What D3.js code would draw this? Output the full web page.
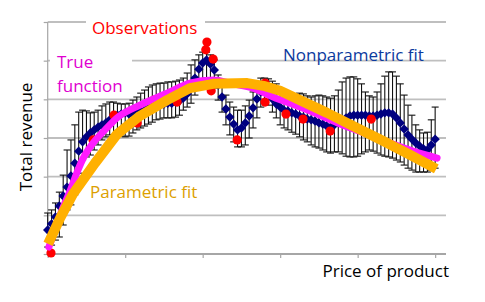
<!DOCTYPE html>
<html>
<head>
<meta charset="utf-8">
<script src="https://cdn.jsdelivr.net/npm/d3@7"></script>
<style>
body { margin: 0; background: #fff; }
svg { display: block; }
text { font-family: "Open Sans", sans-serif; }
</style>
</head>
<body>
<svg id="chart" width="485" height="302"></svg>
<script>
// nonparametric fit, one value per price step (101 steps)
const npFit = [6.2, 7.8, 9.6, 12.4, 15.0, 17.3, 20.2, 23.5, 26.6, 29.0,
  30.3, 31.3, 32.1, 32.8, 33.4, 33.9, 34.7, 35.4, 35.9, 36.2,
  36.5, 36.2, 36.2, 36.7, 37.0, 37.2, 37.8, 38.0, 38.3, 38.5,
  38.8, 39.0, 39.0, 39.3, 39.6, 40.3, 41.4, 43.2, 45.5, 47.8,
  49.4, 50.2, 49.1, 47.6, 43.7, 40.6, 37.5, 35.4, 33.6, 32.1,
  32.6, 33.9, 35.7, 37.8, 40.1, 41.9, 42.7, 41.9, 40.1, 38.8,
  38.0, 37.2, 37.0, 36.5, 36.2, 35.7, 35.4, 34.9, 34.7, 34.4,
  33.9, 33.6, 33.1, 32.8, 33.4, 33.9, 34.7, 35.2, 35.7, 35.9,
  35.9, 35.9, 35.9, 35.7, 35.7, 35.9, 36.2, 36.5, 36.5, 36.2,
  35.2, 33.9, 32.3, 30.8, 29.7, 28.7, 27.9, 27.2, 26.9, 28.2, 29.7];
const npUpper = [10.6, 11.4, 13.2, 16.0, 20.4, 26.9, 29.5, 33.4, 36.7, 37.2,
  37.0, 36.5, 36.7, 37.2, 38.3, 38.8, 39.3, 39.3, 39.0, 38.8,
  38.8, 39.0, 39.8, 40.6, 41.6, 42.4, 43.2, 43.7, 44.0, 44.2,
  44.2, 44.5, 44.5, 44.7, 45.0, 45.5, 46.8, 48.9, 50.2, 51.5,
  52.2, 52.2, 51.5, 50.2, 46.3, 43.7, 41.1, 39.3, 38.0, 37.2,
  37.2, 38.3, 39.8, 41.9, 44.2, 45.5, 45.5, 45.3, 44.7, 44.0,
  42.9, 41.9, 41.4, 41.1, 41.1, 41.6, 41.4, 40.9, 40.6, 40.9,
  41.1, 40.9, 40.6, 40.3, 40.9, 42.4, 44.5, 45.5, 45.8, 45.8,
  45.3, 44.0, 41.9, 40.9, 40.6, 41.9, 44.0, 46.0, 47.1, 47.1,
  46.0, 44.0, 41.1, 38.5, 35.9, 33.4, 32.1, 31.3, 31.5, 34.7, 38.0];
const npLower = [1.8, 2.3, 3.6, 4.4, 7.5, 11.4, 12.7, 15.3, 20.9, 24.3,
  25.1, 25.6, 26.9, 28.2, 29.5, 30.3, 30.8, 30.8, 30.5, 30.5,
  30.3, 30.5, 31.3, 32.1, 32.6, 33.1, 33.6, 34.1, 34.7, 34.9,
  35.2, 35.2, 35.2, 35.4, 35.9, 37.2, 38.0, 39.0, 41.1, 43.7,
  45.0, 45.5, 44.5, 42.9, 39.8, 36.7, 33.4, 30.8, 29.0, 27.7,
  27.7, 28.2, 30.0, 32.6, 35.2, 38.0, 39.0, 38.5, 36.7, 35.2,
  33.4, 32.6, 32.1, 31.5, 31.0, 30.3, 29.5, 29.0, 28.2, 27.7,
  27.4, 26.9, 26.4, 26.1, 26.4, 26.4, 25.9, 25.3, 25.1, 25.1,
  25.3, 25.9, 26.4, 26.9, 26.6, 26.1, 25.6, 25.3, 25.1, 24.8,
  24.3, 23.8, 23.0, 22.2, 21.7, 21.2, 21.2, 21.2, 21.2, 21.7, 22.2];

// observations
const obsX = [0.85, 11.7, 17.1, 23.1, 27.4, 33.4, 41.1, 40.8, 42.7, 42.2, 48.9, 56.1, 56.1, 61.5, 65.9, 72.9, 83.5];
const obsY = [0.26, 29.5, 35.9, 33.9, 39.8, 39.3, 54.8, 52.8, 50.4, 42.2, 29.5, 44.2, 39.3, 36.2, 34.9, 31.8, 34.9];

// true function
const trueX = [0.3, 1.9, 3.7, 5.9, 7.6, 9.6, 11.7, 14.8, 17.9, 23.8, 30.8, 36.7, 42.7, 47.9, 53.0, 58.2, 65.1, 70.3, 75.5, 82.5, 88.4, 94.3, 100.5];
const trueY = [1.8, 6.2, 11.4, 16.6, 21.2, 25.6, 28.7, 32.1, 35.2, 38.5, 41.6, 44.2, 45.0, 44.0, 42.9, 40.6, 38.0, 35.9, 33.6, 31.0, 28.7, 26.6, 24.8];

// parametric fit
const paramX = [0.1, 3.2, 6.5, 12.2, 17.9, 23.8, 30.8, 36.7, 42.7, 51.5, 56.1, 60.0, 65.1, 72.1, 78.8, 86.6, 93.6, 100.3];
const paramY = [2.6, 9.3, 15.5, 23.5, 31.0, 35.7, 39.8, 42.9, 44.0, 44.2, 43.4, 42.2, 39.8, 36.5, 33.1, 29.2, 25.6, 22.0];

const xTicks = [0, 20, 40, 60, 80, 100];
const yTicks = [0, 10, 20, 30, 40, 50, 60];

const svg = d3.select("#chart");
const x = d3.scaleLinear().domain([0, 102.8]).range([47.7, 446]);
const y = d3.scaleLinear().domain([0, 60]).range([254, 22]);

// grid
svg.append("g")
    .selectAll("line")
    .data(yTicks.slice(1))
    .join("line")
    .attr("x1", x(0)).attr("x2", x(102.8))
    .attr("y1", d => y(d)).attr("y2", d => y(d))
    .attr("stroke", "#bfbfbf").attr("stroke-width", 1.8);

// axes
svg.append("g")
    .attr("transform", `translate(0,${y(0)})`)
    .call(d3.axisBottom(x).tickValues(xTicks).tickSize(4).tickFormat(""))
    .call(g => g.select(".domain").attr("stroke", "#a6a6a6").attr("stroke-width", 1.8).attr("d", `M${x(0)},0H${x(102.8)}`))
    .call(g => g.selectAll(".tick line").attr("stroke", "#a6a6a6").attr("stroke-width", 1.2));

svg.append("g")
    .attr("transform", `translate(${x(0)},0)`)
    .call(d3.axisLeft(y).tickValues(yTicks).tickSize(4).tickFormat(""))
    .call(g => g.select(".domain").attr("stroke", "#a6a6a6").attr("stroke-width", 1.2).attr("d", `M0,${y(60)}V${y(0)}`))
    .call(g => g.selectAll(".tick line").attr("stroke", "#a6a6a6").attr("stroke-width", 1.2));

// label boxes that hide the grid
svg.append("rect").attr("x", 86).attr("y", 12).attr("width", 119).attr("height", 24).attr("fill", "#fff");
svg.append("rect").attr("x", 50).attr("y", 50).attr("width", 82).attr("height", 46).attr("fill", "#fff");

// error bars
const np = npFit.map((v, i) => ({i: i, v: v, hi: npUpper[i], lo: npLower[i]}));
const eb = svg.append("g").attr("stroke", "#111").attr("stroke-width", 1.1);
eb.selectAll("line.v").data(np).join("line").attr("class", "v")
    .attr("x1", d => x(d.i)).attr("x2", d => x(d.i))
    .attr("y1", d => y(d.hi)).attr("y2", d => y(d.lo));
eb.selectAll("line.t").data(np).join("line").attr("class", "t")
    .attr("x1", d => x(d.i) - 3.5).attr("x2", d => x(d.i) + 3.5)
    .attr("y1", d => y(d.hi)).attr("y2", d => y(d.hi));
eb.selectAll("line.b").data(np).join("line").attr("class", "b")
    .attr("x1", d => x(d.i) - 3.5).attr("x2", d => x(d.i) + 3.5)
    .attr("y1", d => y(d.lo)).attr("y2", d => y(d.lo));

// diamonds
const diamond = d3.symbol().type(d3.symbolSquare).size(44);
svg.append("g").selectAll("path").data(np).join("path")
    .attr("d", diamond)
    .attr("transform", d => `translate(${x(d.i)},${y(d.v)}) rotate(45)`)
    .attr("fill", "#000080");

// observations
svg.append("g").selectAll("circle").data(obsX).join("circle")
    .attr("cx", d => x(d)).attr("cy", (d, i) => y(obsY[i]))
    .attr("r", 4.6).attr("fill", "#ff0000");

// true function
const trueLine = d3.line().x(d => x(d[0])).y(d => y(d[1])).curve(d3.curveMonotoneX);
svg.append("path")
    .attr("d", trueLine(trueX.map((d, i) => [d, trueY[i]])))
    .attr("fill", "none").attr("stroke", "#ff1aff").attr("stroke-width", 7)
    .attr("stroke-linecap", "round");

// parametric fit
const paramLine = d3.line().x(d => x(d[0])).y(d => y(d[1]));
svg.append("path")
    .attr("d", paramLine(paramX.map((d, i) => [d, paramY[i]])))
    .attr("fill", "none").attr("stroke", "#ffb000").attr("stroke-width", 10)
    .attr("stroke-linejoin", "round");

// labels
const lab = (t, px, py, col) => svg.append("text").attr("x", px).attr("y", py)
    .attr("fill", col).attr("font-size", 17).text(t);
lab("Observations", 92, 34, "#ff0000");
lab("True", 57, 68, "#e000d0");
lab("function", 57, 92, "#e000d0");
lab("Nonparametric fit", 283, 61, "#0b3a9e");
lab("Parametric fit", 90, 198, "#dca000");
lab("Price of product", 449, 277, "#000").attr("text-anchor", "end");
svg.append("text")
    .attr("transform", "translate(32,137) rotate(-90)")
    .attr("text-anchor", "middle").attr("font-size", 17).attr("fill", "#000")
    .text("Total revenue");
</script>
</body>
</html>
